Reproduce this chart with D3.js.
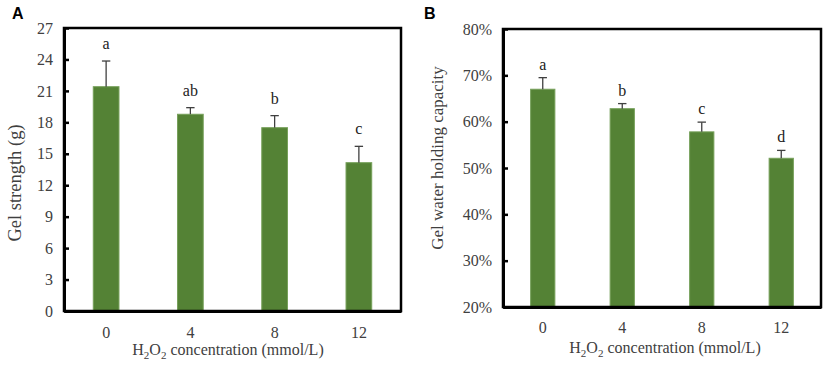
<!DOCTYPE html>
<html>
<head>
<meta charset="utf-8">
<script src="https://cdn.jsdelivr.net/npm/d3@7"></script>
<style>
  body { margin: 0; background: #fff; }
  svg { display: block; }
  text { font-family: "Liberation Serif", "Times New Roman", serif; fill: #404040; }
</style>
</head>
<body>
<div id="chart-container"></div>
<script>
// Categories (H2O2 concentration, mmol/L)
const concentrations = ["0", "4", "8", "12"];

// Panel A: gel strength (g)
const strengthValues = [21.4, 18.77, 17.49, 14.15];
const strengthErrors = [2.45, 0.63, 1.15, 1.56];
const strengthLetters = ["a", "ab", "b", "c"];
const strengthTicks = [0, 3, 6, 9, 12, 15, 18, 21, 24, 27];

// Panel B: gel water holding capacity
const whcValues = [0.670, 0.628, 0.578, 0.521];
const whcErrors = [0.025, 0.011, 0.021, 0.017];
const whcLetters = ["a", "b", "c", "d"];
const whcTicks = [0.2, 0.3, 0.4, 0.5, 0.6, 0.7, 0.8];

const barFill = "#548235";
const barStroke = "#76a05a";
const errColor = "#404040";

const svg = d3.select("#chart-container")
    .append("svg")
    .attr("width", 829)
    .attr("height", 365);

function drawPanel(opt) {
    const g = svg.append("g");

    const x = d3.scaleBand()
        .domain(concentrations)
        .range([opt.left, opt.right])
        .paddingInner(0.695)
        .paddingOuter(0.3475);

    const y = d3.scaleLinear()
        .domain(opt.domain)
        .range([opt.bottom, opt.top]);

    // bars
    g.selectAll("rect.bar")
        .data(opt.values)
        .enter()
        .append("rect")
        .attr("class", "bar")
        .attr("x", (d, i) => x(concentrations[i]))
        .attr("y", d => y(d))
        .attr("width", x.bandwidth())
        .attr("height", d => y(opt.domain[0]) - y(d))
        .style("fill", barFill)
        .style("stroke", barStroke)
        .style("stroke-width", 1);

    // error bars (upper only)
    const cx = i => x(concentrations[i]) + x.bandwidth() / 2;
    opt.values.forEach((v, i) => {
        const top = y(v + opt.errors[i]);
        g.append("line")
            .attr("x1", cx(i)).attr("x2", cx(i))
            .attr("y1", y(v)).attr("y2", top)
            .style("stroke", errColor).style("stroke-width", 1.3);
        g.append("line")
            .attr("x1", cx(i) - 4.2).attr("x2", cx(i) + 4.2)
            .attr("y1", top).attr("y2", top)
            .style("stroke", errColor).style("stroke-width", 1.3);
        g.append("text")
            .attr("x", cx(i))
            .attr("y", top - opt.letterGap)
            .attr("text-anchor", "middle")
            .style("font-size", "16px")
            .style("fill", "#222")
            .text(opt.letters[i]);
    });

    // frame
    g.append("rect")
        .attr("x", opt.left)
        .attr("y", opt.top)
        .attr("width", opt.right - opt.left)
        .attr("height", opt.bottom - opt.top)
        .style("fill", "none")
        .style("stroke", "#000")
        .style("stroke-width", 2.5);

    // Y axis
    const yAxis = d3.axisLeft(y)
        .tickValues(opt.ticks)
        .tickFormat(opt.format)
        .tickSizeInner(-5)
        .tickSizeOuter(0)
        .tickPadding(11);
    const ya = g.append("g")
        .attr("transform", `translate(${opt.left},0)`)
        .call(yAxis);
    ya.select(".domain").style("stroke", "#000").style("stroke-width", 3);
    ya.selectAll(".tick line").style("stroke", "#000").style("stroke-width", 2.5);
    ya.selectAll(".tick text")
        .style("font-size", "16px")
        .style("font-family", "Liberation Serif, serif")
        .style("fill", "#404040");

    // X axis
    const xAxis = d3.axisBottom(x)
        .tickSize(0)
        .tickPadding(opt.xPad);
    const xa = g.append("g")
        .attr("transform", `translate(0,${opt.bottom})`)
        .call(xAxis);
    xa.select(".domain").style("stroke", "#000").style("stroke-width", 3);
    xa.selectAll(".tick text")
        .style("font-size", "16px")
        .style("font-family", "Liberation Serif, serif")
        .style("fill", "#404040");

    // X title with subscripts
    const xt = g.append("text")
        .attr("x", opt.xTitleX)
        .attr("y", opt.xTitleY)
        .attr("text-anchor", "middle")
        .style("font-size", "16px");
    xt.append("tspan").text("H");
    xt.append("tspan").attr("dy", 4).style("font-size", "11px").text("2");
    xt.append("tspan").attr("dy", -4).text("O");
    xt.append("tspan").attr("dy", 4).style("font-size", "11px").text("2");
    xt.append("tspan").attr("dy", -4).text(" concentration (mmol/L)");

    // Y title
    g.append("text")
        .attr("transform", `translate(${opt.yTitleX},${opt.yTitleY}) rotate(-90)`)
        .attr("text-anchor", "middle")
        .attr("dominant-baseline", "central")
        .style("font-size", opt.yTitleSize)
        .text(opt.yTitle);

    // panel letter
    g.append("text")
        .attr("x", opt.labelX)
        .attr("y", 19)
        .style("font-family", "Liberation Sans, Arial, sans-serif")
        .style("font-weight", "bold")
        .style("font-size", "16px")
        .style("fill", "#000")
        .text(opt.label);
}

drawPanel({
    left: 64, right: 401, top: 28, bottom: 311,
    domain: [0, 27], ticks: strengthTicks, format: d => d,
    values: strengthValues, errors: strengthErrors, letters: strengthLetters,
    letterGap: 12, xPad: 15.5,
    xTitleX: 228, xTitleY: 355,
    yTitleX: 15, yTitleY: 183, yTitle: "Gel strength (g)", yTitleSize: "18.5px",
    label: "A", labelX: 12
});

drawPanel({
    left: 503, right: 821, top: 29, bottom: 307,
    domain: [0.2, 0.8], ticks: whcTicks, format: d3.format(".0%"),
    values: whcValues, errors: whcErrors, letters: whcLetters,
    letterGap: 8, xPad: 15,
    xTitleX: 665, xTitleY: 353,
    yTitleX: 437, yTitleY: 158, yTitle: "Gel water holding capacity", yTitleSize: "17px",
    label: "B", labelX: 424
});
</script>
</body>
</html>
